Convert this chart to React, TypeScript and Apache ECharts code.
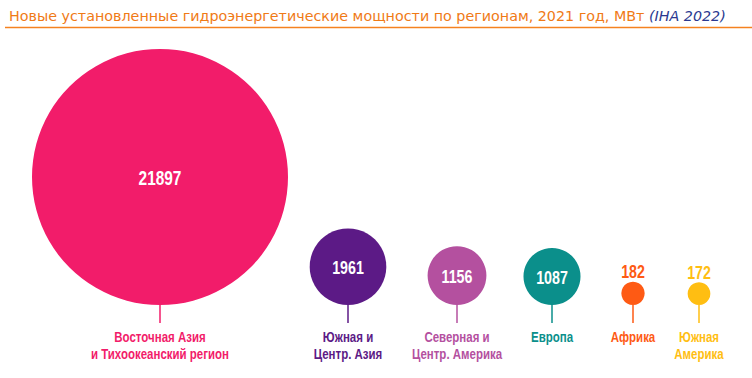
import React, { useEffect, useRef } from "react";
import * as echarts from "echarts";

const regions = [
  "Восточная Азия\nи Тихоокеанский регион",
  "Южная и\nЦентр. Азия",
  "Северная и\nЦентр. Америка",
  "Европа",
  "Африка",
  "Южная\nАмерика",
];
const capacityMW = [21897, 1961, 1156, 1087, 182, 172];
const colors = ["#f21c6a", "#5c1a86", "#b4509f", "#0b8f8b", "#fe5a14", "#ffbe12"];
// layout: horizontal centre of each bubble (px along the hidden x axis)
const centerX = [160, 348, 457, 552, 633, 699];

const BASELINE = 305; // bottom of bubbles
const MAX_R = 128;
const INSIDE_MIN = 500; // values below are drawn above the bubble
const NARROW = 0.79;

export default function App() {
  const ref = useRef<HTMLDivElement>(null);
  useEffect(() => {
    document.body.style.margin = "0";
    if (!ref.current) return;
    const chart = echarts.init(ref.current, undefined, { renderer: "svg" });
    const maxV = Math.max(...capacityMW);
    const data = capacityMW.map((v, i) => [centerX[i], v, i]);
    chart.setOption({
      animation: false,
      grid: { left: 0, right: 0, top: 0, bottom: 0 },
      xAxis: { type: "value", min: 0, max: 752, show: false },
      yAxis: { type: "value", min: 0, max: 378, inverse: true, show: false },
      title: {
        text: "{a|Новые установленные гидроэнергетические мощности по регионам, 2021 год, МВт }{b|(IHA 2022)}",
        left: 4,
        top: 4,
        textStyle: {
          rich: {
            a: { fontFamily: "DejaVu Sans", fontSize: 14.3, color: "#f07a16", fontWeight: "normal" },
            b: { fontFamily: "DejaVu Sans", fontSize: 14.3, color: "#2b3990", fontStyle: "italic", fontWeight: "normal" },
          },
        },
      },
      graphic: [
        {
          type: "line",
          shape: { x1: 5, y1: 27.5, x2: 752, y2: 27.5 },
          style: { stroke: "#f58220", lineWidth: 1.3 },
        },
      ],
      series: [
        {
          type: "custom",
          data,
          renderItem: (params: any, api: any) => {
            const v = api.value(1);
            const idx = api.value(2);
            const c = colors[idx];
            const [cx, by] = api.coord([api.value(0), BASELINE]);
            const r = MAX_R * Math.sqrt(v / maxV);
            const cy = by - r;
            const inside = v >= INSIDE_MIN;
            const fs = r > 100 ? 19.5 : 18;
            const children: any[] = [
              {
                type: "line",
                shape: { x1: cx, y1: by, x2: cx, y2: by + 18 },
                style: { stroke: c, lineWidth: 1.5 },
              },
              {
                type: "circle",
                shape: { cx, cy, r },
                style: { fill: c },
              },
              {
                type: "text",
                x: cx,
                y: inside ? cy + 1 : cy - r - 10,
                scaleX: NARROW,
                style: {
                  text: String(v),
                  x: 0,
                  y: 0,
                  align: "center",
                  verticalAlign: "middle",
                  fill: inside ? "#ffffff" : c,
                  font: `bold ${fs}px "Liberation Sans", Arial, sans-serif`,
                },
              },
              {
                type: "text",
                x: cx,
                y: by + 24,
                scaleX: 0.82,
                style: {
                  text: regions[idx],
                  x: 0,
                  y: 0,
                  align: "center",
                  verticalAlign: "top",
                  fill: c,
                  lineHeight: 17,
                  font: `bold 14px "Liberation Sans", Arial, sans-serif`,
                },
              },
            ];
            return { type: "group", children };
          },
        },
      ],
    });
    return () => chart.dispose();
  }, []);
  return <div ref={ref} style={{ width: 752, height: 378 }} />;
}
